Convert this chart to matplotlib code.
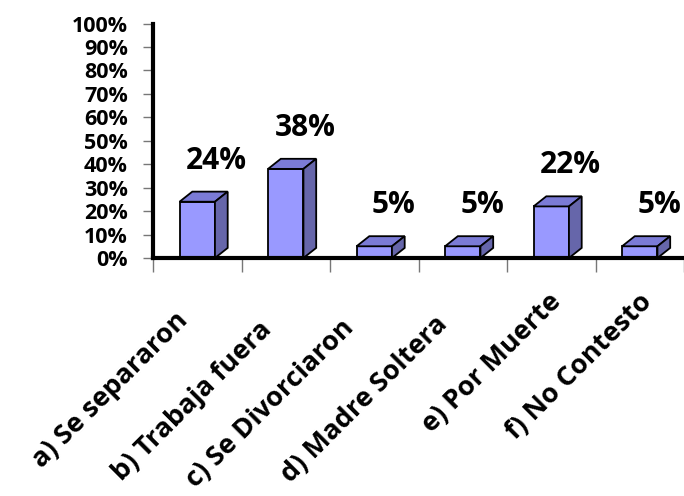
import matplotlib
matplotlib.use("Agg")
import matplotlib.pyplot as plt
from matplotlib.ticker import MultipleLocator, PercentFormatter
from matplotlib.transforms import offset_copy

# ── data ──────────────────────────────────────────────────────────────────────
CATEGORIES = [
    "a) Se separaron",
    "b) Trabaja fuera",
    "c) Se Divorciaron",
    "d) Madre Soltera",
    "e) Por Muerte",
    "f) No Contesto",
]
VALUES = [0.24, 0.38, 0.05, 0.05, 0.22, 0.05]
VALUE_LABELS = ["24%", "38%", "5%", "5%", "22%", "5%"]

# ── style / layout ────────────────────────────────────────────────────────────
FRONT = "#9999FF"
TOP = "#7B7BD6"
SIDE = "#6666AA"
BAR_W = 0.40
DEPTH_X = 0.144
DEPTH_Y = 0.043
FONT = "Open Sans"
# pixel offsets of category-label anchors from the category centre
LABEL_OFFSETS = [(-13, -59), (-18, -68), (-24, -66), (-19, -62), (6, -40), (8, -40)]

W, H = 684, 496
fig = plt.figure(figsize=(W / 100, H / 100), dpi=100)
ax = fig.add_axes([153 / W, (H - 258) / H, 531 / W, 234.5 / H])

for i, v in enumerate(VALUES):
    x0, x1 = i - BAR_W / 2, i + BAR_W / 2
    ax.fill([x0, x1, x1, x0], [0, 0, v, v], facecolor=FRONT, edgecolor="black",
            linewidth=1.3, zorder=3, clip_on=False)
    ax.fill([x0, x1, x1 + DEPTH_X, x0 + DEPTH_X], [v, v, v + DEPTH_Y, v + DEPTH_Y],
            facecolor=TOP, edgecolor="black", linewidth=1.3, zorder=3, clip_on=False)
    ax.fill([x1, x1 + DEPTH_X, x1 + DEPTH_X, x1], [0, DEPTH_Y, v + DEPTH_Y, v],
            facecolor=SIDE, edgecolor="black", linewidth=1.3, zorder=3, clip_on=False)
    ax.text(i + 0.22, v + 0.175, VALUE_LABELS[i], ha="center", va="center",
            fontsize=21.5, fontweight="bold", family=FONT)

ax.set_xlim(-0.5, -0.5 + 531 / 90.5)
ax.set_ylim(0, 1)
ax.yaxis.set_major_locator(MultipleLocator(0.1))
ax.yaxis.set_major_formatter(PercentFormatter(1.0, decimals=0))
ax.tick_params(axis="y", length=7, width=1, color="#777777", pad=11,
               labelsize=15.5)
for lab in ax.get_yticklabels():
    lab.set_fontweight("bold")
    lab.set_family(FONT)

ax.set_xticks([k - 0.5 for k in range(len(CATEGORIES) + 1)])
ax.set_xticklabels([])
ax.tick_params(axis="x", length=10, width=1, color="#777777")

for i, (name, (dx, dy)) in enumerate(zip(CATEGORIES, LABEL_OFFSETS)):
    tr = offset_copy(ax.transData, fig=fig, x=dx, y=dy, units="dots")
    ax.text(i, 0, name, transform=tr, rotation=45, rotation_mode="anchor",
            ha="right", va="center", fontsize=19.5, fontweight="bold", family=FONT,
            clip_on=False)

for side in ("top", "right"):
    ax.spines[side].set_visible(False)
ax.spines["left"].set_linewidth(3)
ax.spines["bottom"].set_linewidth(3)
ax.spines["left"].set_zorder(4)
ax.spines["bottom"].set_zorder(4)

fig.savefig("out.png", dpi=100)
